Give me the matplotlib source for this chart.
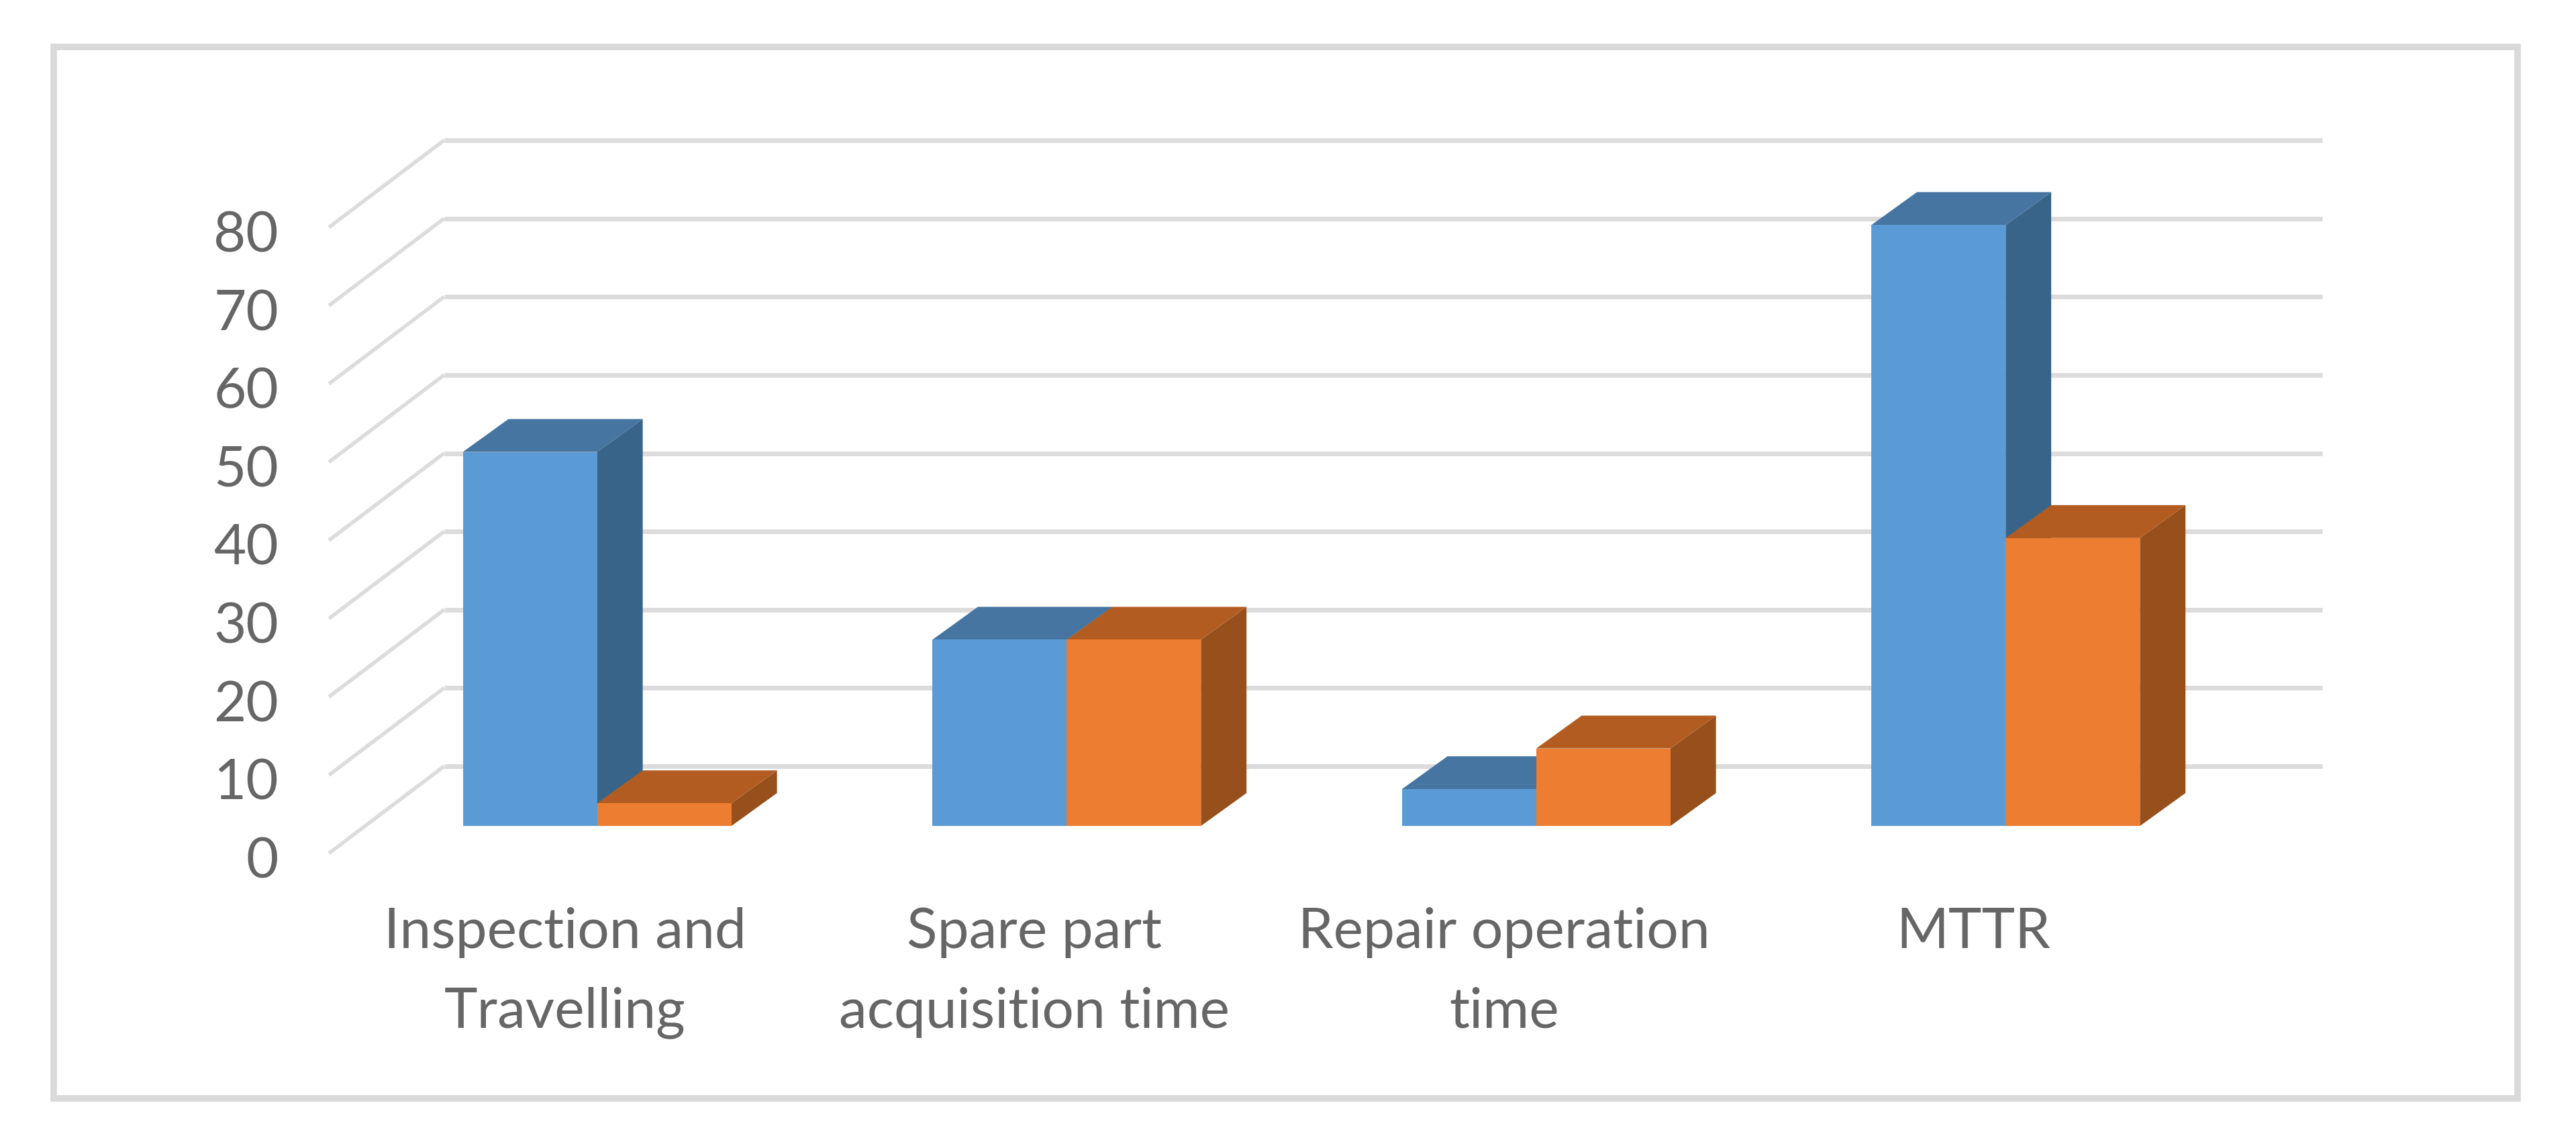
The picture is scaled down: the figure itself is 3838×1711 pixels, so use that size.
import matplotlib
matplotlib.use('Agg')
import matplotlib.pyplot as plt
from matplotlib.patches import Rectangle
from matplotlib.transforms import ScaledTranslation

categories = ['Inspection and\nTravelling', 'Spare part\nacquisition time', 'Repair operation\ntime', 'MTTR']
series_a = [47.8, 23.8, 4.7, 76.8]
series_b = [2.9, 23.8, 9.9, 36.8]
y_ticks = [0, 10, 20, 30, 40, 50, 60, 70, 80]

W, H = 3838, 1711
# bar depth in data units (category spacing / value)
depth_x = 0.097
depth_y = 4.2
bar_w = 0.286

fig = plt.figure(figsize=(W / 100, H / 100), dpi=100, facecolor='white')
plt.rcParams['font.family'] = ['Lato', 'DejaVu Sans']

# outer frame
fig.add_artist(Rectangle((80 / W, 1 - 1637 / H), (3751 - 80) / W, (1637 - 70) / H, transform=fig.transFigure,
                         fill=False, edgecolor='#D9D9D9', linewidth=7))

ax = fig.add_axes([540 / W, 1 - 1231 / H, (3338 - 540) / W, (1231 - 298) / H])
ax.set_xlim(-0.5, 3.5)
ax.set_ylim(0, 80)
for s in ax.spines.values():
    s.set_visible(False)
ax.patch.set_alpha(0)

# 3d looking gridlines: diagonal on the side wall, then horizontal on the back wall
for v in y_ticks:
    ax.plot([-0.5 - 0.0714, -0.5 + 0.174], [v - 3.5, v + 7.63], color='#DCDCDC', lw=4, clip_on=False, zorder=1,
            solid_capstyle='butt')
    ax.plot([-0.5 + 0.174, 3.5 + 0.174], [v + 7.63, v + 7.63], color='#DCDCDC', lw=5, clip_on=False, zorder=1,
            solid_capstyle='butt')


def draw_bar(x0, h, front, top, side, z):
    x1 = x0 + bar_w
    ax.fill([x1, x1 + depth_x, x1 + depth_x, x1], [0, depth_y, h + depth_y, h], color=side, lw=0, clip_on=False, zorder=z)
    ax.fill([x0, x1, x1 + depth_x, x0 + depth_x], [h, h, h + depth_y, h + depth_y], color=top, lw=0, clip_on=False, zorder=z)
    ax.bar(x0, h, width=bar_w, align='edge', color=front, lw=0, clip_on=False, zorder=z)


for i in range(len(categories)):
    draw_bar(i - bar_w, series_a[i], '#5B9BD5', '#4575A0', '#39648A', 3)
    draw_bar(i, series_b[i], '#ED7D31', '#B25C21', '#97501B', 4)

ax.set_xticks(range(len(categories)))
ax.set_xticklabels(categories, fontsize=60.5, color='#666666', linespacing=1.7)
ax.set_yticks(y_ticks)
ax.set_yticklabels([str(v) for v in y_ticks], fontsize=60, color='#666666')
ax.tick_params(axis='x', length=0, pad=87)
ax.tick_params(axis='y', length=0, pad=90)

# labels sit off the bar plane, on the front edge of the floor
x_off = ScaledTranslation(-0.48, 0, fig.dpi_scale_trans)
y_off = ScaledTranslation(0, -0.47, fig.dpi_scale_trans)
for lbl in ax.get_xticklabels():
    lbl.set_transform(lbl.get_transform() + x_off)
for lbl in ax.get_yticklabels():
    lbl.set_transform(lbl.get_transform() + y_off)

fig.savefig('out.png', dpi=100, facecolor='white')
